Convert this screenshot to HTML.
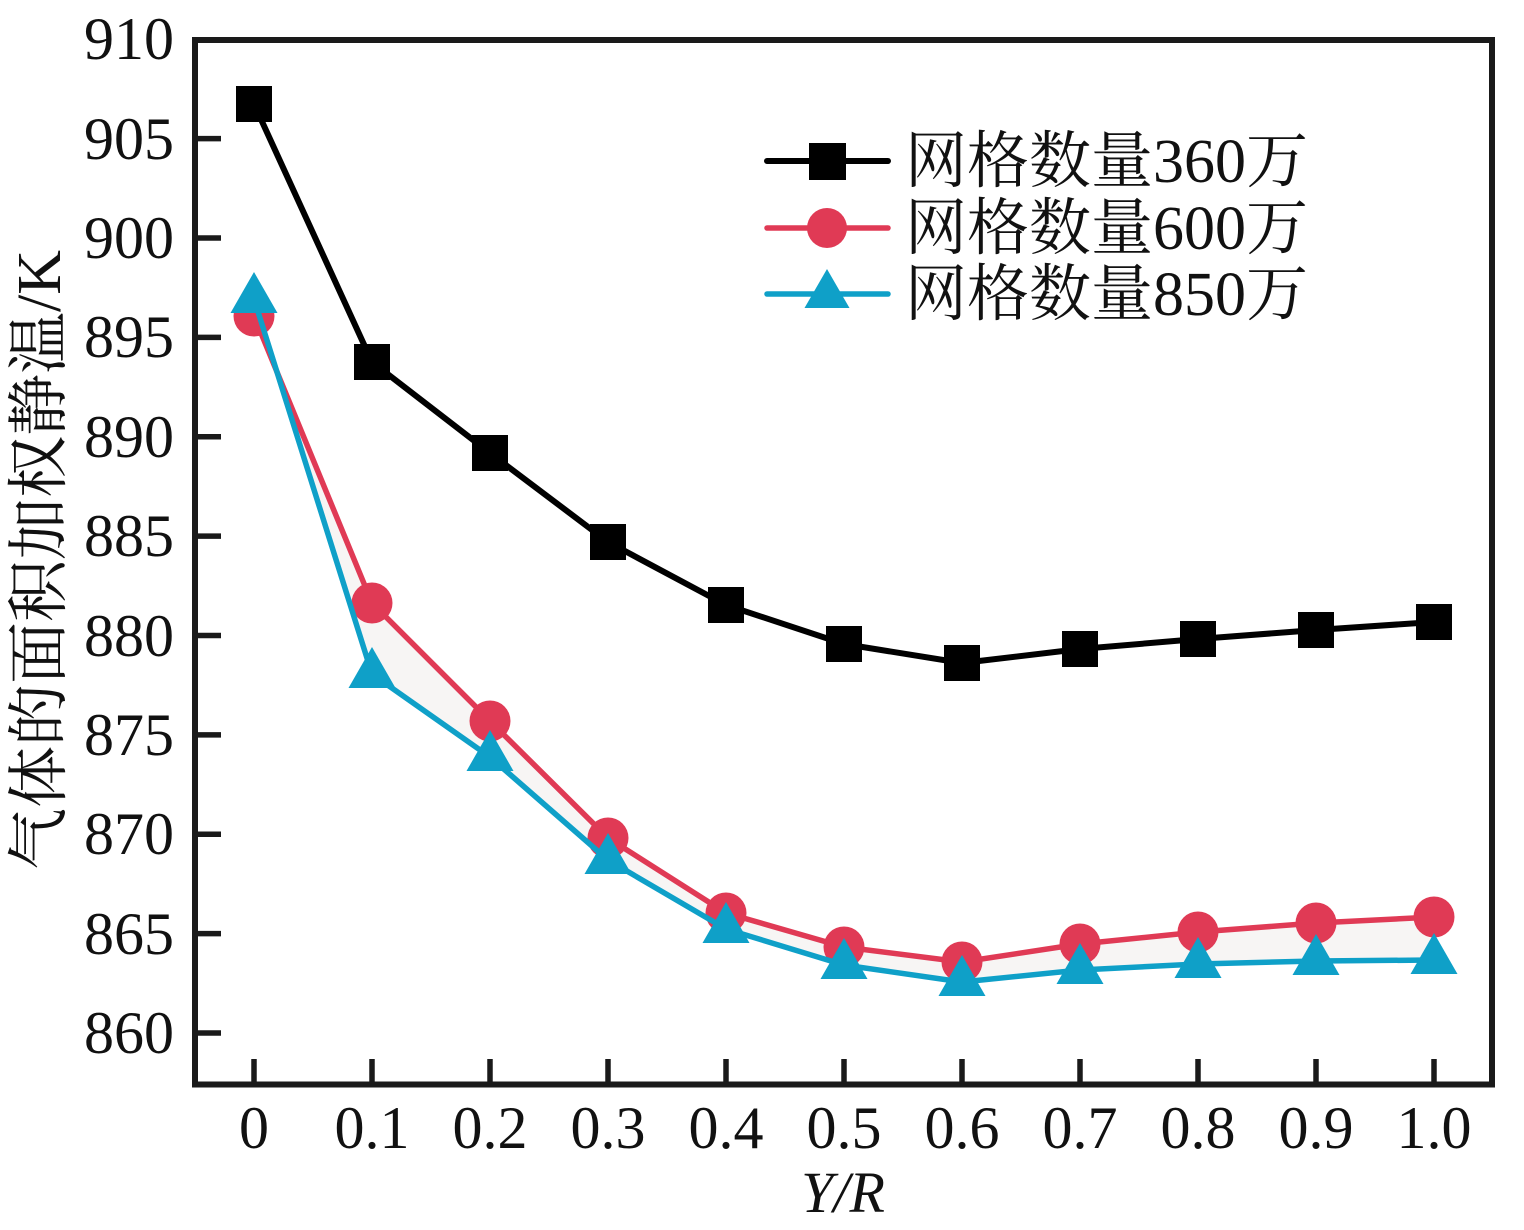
<!DOCTYPE html>
<html>
<head>
<meta charset="utf-8">
<style>
html,body{margin:0;padding:0;background:#fff;}
svg{display:block;}
text{font-family:"Liberation Serif","Noto Serif CJK SC",serif;fill:#111;}
</style>
</head>
<body>
<svg width="1524" height="1230" viewBox="0 0 1524 1230" xmlns="http://www.w3.org/2000/svg">
<rect x="0" y="0" width="1524" height="1230" fill="#fff"/>

<!-- fill between red and blue -->
<polygon fill="#f7f5f4" points="254,316 372,603 490,721 608,838 726,913 844,947 962,962 1080,944 1198,932 1316,923 1434,917 1434,960 1316,961 1198,964 1080,970 962,982 844,965 726,929 608,860 490,757 372,674 254,299"/>

<!-- black series -->
<polyline fill="none" stroke="#000" stroke-width="6" stroke-linejoin="round" points="254,104 372,362 490,453 608,542 726,605 844,644 962,663 1080,649 1198,639 1316,630 1434,622"/>
<g fill="#000">
<rect x="236" y="86" width="36" height="36"/>
<rect x="354" y="344" width="36" height="36"/>
<rect x="472" y="435" width="36" height="36"/>
<rect x="590" y="524" width="36" height="36"/>
<rect x="708" y="587" width="36" height="36"/>
<rect x="826" y="626" width="36" height="36"/>
<rect x="944" y="645" width="36" height="36"/>
<rect x="1062" y="631" width="36" height="36"/>
<rect x="1180" y="621" width="36" height="36"/>
<rect x="1298" y="612" width="36" height="36"/>
<rect x="1416" y="604" width="36" height="36"/>
</g>

<!-- red series -->
<polyline fill="none" stroke="#e03a55" stroke-width="5.5" stroke-linejoin="round" points="254,316 372,603 490,721 608,838 726,913 844,947 962,962 1080,944 1198,932 1316,923 1434,917"/>
<g fill="#e03a55">
<circle cx="254" cy="316" r="20.5"/>
<circle cx="372" cy="603" r="20.5"/>
<circle cx="490" cy="721" r="20.5"/>
<circle cx="608" cy="838" r="20.5"/>
<circle cx="726" cy="913" r="20.5"/>
<circle cx="844" cy="947" r="20.5"/>
<circle cx="962" cy="962" r="20.5"/>
<circle cx="1080" cy="944" r="20.5"/>
<circle cx="1198" cy="932" r="20.5"/>
<circle cx="1316" cy="923" r="20.5"/>
<circle cx="1434" cy="917" r="20.5"/>
</g>

<!-- blue series -->
<polyline fill="none" stroke="#0fa0c8" stroke-width="5.5" stroke-linejoin="round" points="254,299 372,674 490,757 608,860 726,929 844,965 962,982 1080,970 1198,964 1316,961 1434,960"/>
<g fill="#0fa0c8">
<polygon points="254,272 277.5,313 230.5,313"/>
<polygon points="372,647 395.5,688 348.5,688"/>
<polygon points="490,730 513.5,771 466.5,771"/>
<polygon points="608,833 631.5,874 584.5,874"/>
<polygon points="726,902 749.5,943 702.5,943"/>
<polygon points="844,938 867.5,979 820.5,979"/>
<polygon points="962,955 985.5,996 938.5,996"/>
<polygon points="1080,943 1103.5,984 1056.5,984"/>
<polygon points="1198,937 1221.5,978 1174.5,978"/>
<polygon points="1316,934 1339.5,975 1292.5,975"/>
<polygon points="1434,933 1457.5,974 1410.5,974"/>
</g>

<!-- axes frame -->
<rect x="195" y="40" width="1297" height="1044.5" fill="none" stroke="#1a1a1a" stroke-width="6"/>

<!-- y ticks -->
<g stroke="#1a1a1a" stroke-width="5.5">
<line x1="195" y1="1033" x2="221" y2="1033"/>
<line x1="195" y1="933.6" x2="221" y2="933.6"/>
<line x1="195" y1="834.2" x2="221" y2="834.2"/>
<line x1="195" y1="734.9" x2="221" y2="734.9"/>
<line x1="195" y1="635.5" x2="221" y2="635.5"/>
<line x1="195" y1="536.1" x2="221" y2="536.1"/>
<line x1="195" y1="436.8" x2="221" y2="436.8"/>
<line x1="195" y1="337.4" x2="221" y2="337.4"/>
<line x1="195" y1="238" x2="221" y2="238"/>
<line x1="195" y1="138.6" x2="221" y2="138.6"/>
</g>
<!-- x ticks -->
<g stroke="#1a1a1a" stroke-width="5.5">
<line x1="254" y1="1059" x2="254" y2="1084"/>
<line x1="372" y1="1059" x2="372" y2="1084"/>
<line x1="490" y1="1059" x2="490" y2="1084"/>
<line x1="608" y1="1059" x2="608" y2="1084"/>
<line x1="726" y1="1059" x2="726" y2="1084"/>
<line x1="844" y1="1059" x2="844" y2="1084"/>
<line x1="962" y1="1059" x2="962" y2="1084"/>
<line x1="1080" y1="1059" x2="1080" y2="1084"/>
<line x1="1198" y1="1059" x2="1198" y2="1084"/>
<line x1="1316" y1="1059" x2="1316" y2="1084"/>
<line x1="1434" y1="1059" x2="1434" y2="1084"/>
</g>

<!-- y tick labels -->
<g font-size="60" text-anchor="end">
<text x="174" y="1053">860</text>
<text x="174" y="954">865</text>
<text x="174" y="854">870</text>
<text x="174" y="755">875</text>
<text x="174" y="656">880</text>
<text x="174" y="556">885</text>
<text x="174" y="457">890</text>
<text x="174" y="357">895</text>
<text x="174" y="258">900</text>
<text x="174" y="159">905</text>
<text x="174" y="59">910</text>
</g>

<!-- x tick labels -->
<g font-size="60" text-anchor="middle">
<text x="254" y="1148">0</text>
<text x="372" y="1148">0.1</text>
<text x="490" y="1148">0.2</text>
<text x="608" y="1148">0.3</text>
<text x="726" y="1148">0.4</text>
<text x="844" y="1148">0.5</text>
<text x="962" y="1148">0.6</text>
<text x="1080" y="1148">0.7</text>
<text x="1198" y="1148">0.8</text>
<text x="1316" y="1148">0.9</text>
<text x="1434" y="1148">1.0</text>
</g>

<!-- axis titles -->
<text x="843" y="1212" font-size="58" font-style="italic" text-anchor="middle">Y/R</text>
<text transform="translate(60,560) rotate(-90)" font-size="62" text-anchor="middle">气体的面积加权静温/K</text>

<!-- legend -->
<g>
<line x1="767" y1="161" x2="888" y2="161" stroke="#000" stroke-width="6" stroke-linecap="round"/>
<rect x="809" y="143" width="37" height="37" fill="#000"/>
<line x1="767" y1="228" x2="888" y2="228" stroke="#e03a55" stroke-width="5.5" stroke-linecap="round"/>
<circle cx="827" cy="228" r="20" fill="#e03a55"/>
<line x1="767" y1="294" x2="888" y2="294" stroke="#0fa0c8" stroke-width="5.5" stroke-linecap="round"/>
<polygon points="827,269 849.5,308 804.5,308" fill="#0fa0c8"/>
<g font-size="62">
<text x="905" y="182">网格数量360万</text>
<text x="905" y="249">网格数量600万</text>
<text x="905" y="315">网格数量850万</text>
</g>
</g>
</svg>
</body>
</html>
